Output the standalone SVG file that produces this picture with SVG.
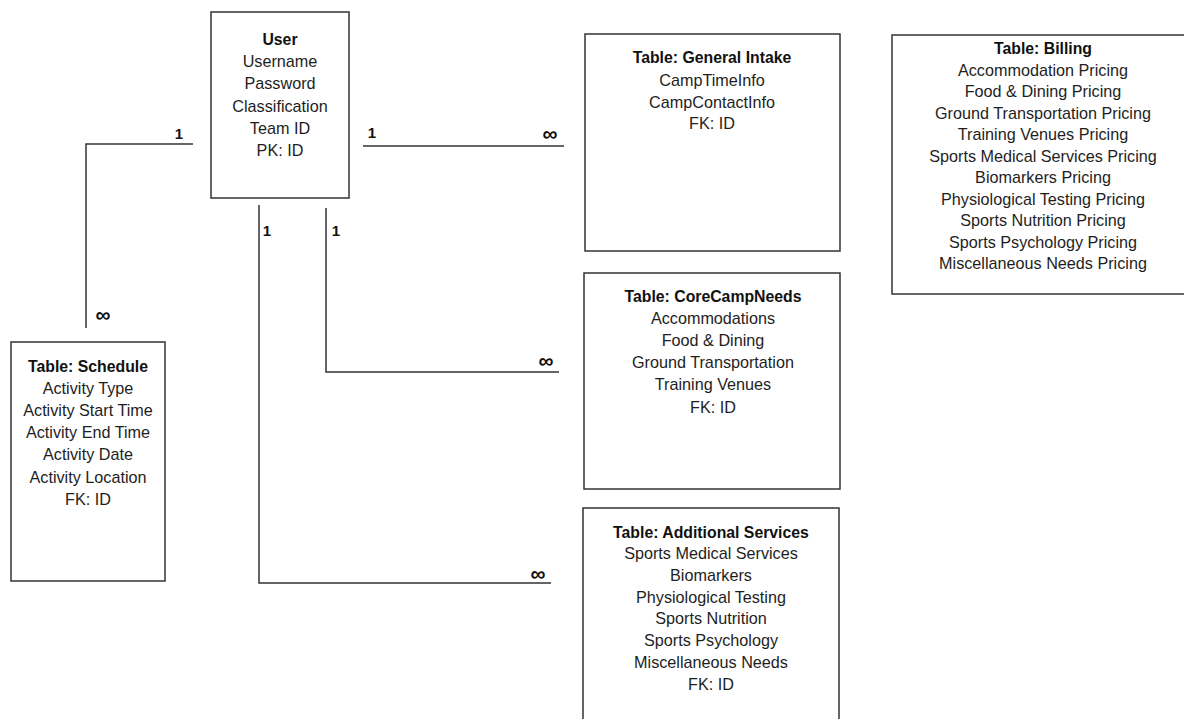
<svg xmlns="http://www.w3.org/2000/svg" width="1184" height="719" viewBox="0 0 1184 719">
<style>
.box{fill:#fff;stroke:#333;stroke-width:1.5}
.ln{fill:none;stroke:#333;stroke-width:1.5}
text{font-family:"Liberation Sans",Arial,sans-serif;font-size:16.2px;fill:#1e1e1e;text-anchor:middle;dominant-baseline:central}
.b{font-weight:bold;font-size:15.8px;fill:#111}
.lbl{font-weight:bold;font-size:15px;fill:#111}
.inf{font-weight:bold;font-size:21px;fill:#111}
</style>
<rect width="1184" height="719" fill="#fff"/>
<g id="connectors">
<polyline class="ln" points="193,144 86,144 86,328"/>
<line class="ln" x1="363" y1="146" x2="564" y2="146"/>
<polyline class="ln" points="326,208 326,372 559,372"/>
<polyline class="ln" points="259,205 259,583 551,583"/>
<text class="lbl" x="179" y="133">1</text>
<text class="inf" x="103" y="314">∞</text>
<text class="lbl" x="372" y="132">1</text>
<text class="inf" x="550" y="133">∞</text>
<text class="lbl" x="267" y="230">1</text>
<text class="lbl" x="336" y="230">1</text>
<text class="inf" x="546" y="360">∞</text>
<text class="inf" x="538" y="573">∞</text>
</g>
<g id="user">
<rect class="box" x="211" y="12" width="138" height="186"/>
<text class="b" x="280" y="39">User</text>
<text x="280" y="61">Username</text>
<text x="280" y="83">Password</text>
<text x="280" y="106">Classification</text>
<text x="280" y="128">Team ID</text>
<text x="280" y="150">PK: ID</text>
</g>
<g id="general-intake">
<rect class="box" x="585" y="34" width="255" height="217"/>
<text class="b" x="712" y="57">Table: General Intake</text>
<text x="712" y="80">CampTimeInfo</text>
<text x="712" y="102">CampContactInfo</text>
<text x="712" y="123">FK: ID</text>
</g>
<g id="billing">
<rect class="box" x="892" y="35" width="302" height="259"/>
<text class="b" x="1043" y="48">Table: Billing</text>
<text x="1043" y="69.5">Accommodation Pricing</text>
<text x="1043" y="91">Food &amp; Dining Pricing</text>
<text x="1043" y="112.5">Ground Transportation Pricing</text>
<text x="1043" y="134">Training Venues Pricing</text>
<text x="1043" y="155.5">Sports Medical Services Pricing</text>
<text x="1043" y="177">Biomarkers Pricing</text>
<text x="1043" y="198.5">Physiological Testing Pricing</text>
<text x="1043" y="220">Sports Nutrition Pricing</text>
<text x="1043" y="241.5">Sports Psychology Pricing</text>
<text x="1043" y="263">Miscellaneous Needs Pricing</text>
</g>
<g id="schedule">
<rect class="box" x="11" y="342" width="154" height="239"/>
<text class="b" x="88" y="366">Table: Schedule</text>
<text x="88" y="388">Activity Type</text>
<text x="88" y="410">Activity Start Time</text>
<text x="88" y="432">Activity End Time</text>
<text x="88" y="454">Activity Date</text>
<text x="88" y="477">Activity Location</text>
<text x="88" y="499">FK: ID</text>
</g>
<g id="core-camp-needs">
<rect class="box" x="584" y="273" width="256" height="216"/>
<text class="b" x="713" y="296">Table: CoreCampNeeds</text>
<text x="713" y="318">Accommodations</text>
<text x="713" y="340">Food &amp; Dining</text>
<text x="713" y="362">Ground Transportation</text>
<text x="713" y="384">Training Venues</text>
<text x="713" y="407">FK: ID</text>
</g>
<g id="additional-services">
<rect class="box" x="583" y="508" width="256" height="230"/>
<text class="b" x="711" y="532">Table: Additional Services</text>
<text x="711" y="553">Sports Medical Services</text>
<text x="711" y="575">Biomarkers</text>
<text x="711" y="597">Physiological Testing</text>
<text x="711" y="618">Sports Nutrition</text>
<text x="711" y="640">Sports Psychology</text>
<text x="711" y="662">Miscellaneous Needs</text>
<text x="711" y="684">FK: ID</text>
</g>
</svg>
